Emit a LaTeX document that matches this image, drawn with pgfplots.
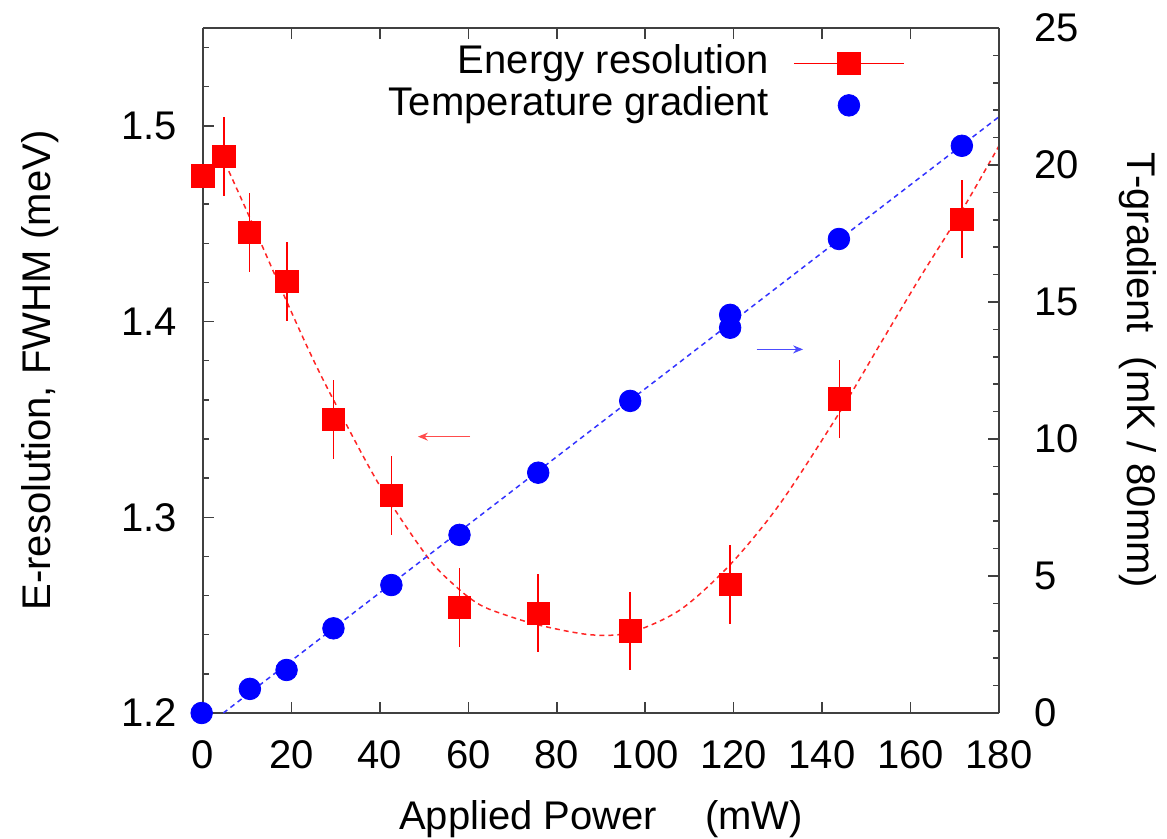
\documentclass[border=0pt]{standalone}
\usepackage{fontspec}
\setmainfont{Liberation Sans}
\usepackage{pgfplots}
\pgfplotsset{compat=1.18}
\usetikzlibrary{arrows.meta}

\definecolor{axgray}{RGB}{64,64,64}

\pgfplotsset{
  common/.style={
    scale only axis, width=398pt, height=342.5pt,
    xmin=0, xmax=180, clip=false,
    tick align=inside, major tick length=5.5pt, minor tick length=3pt,
    every tick/.style={axgray, line width=0.75pt},
    axis line style={axgray, line width=0.75pt},
    tick label style={font=\fontsize{20}{24}\selectfont},
    /pgf/number format/assume math mode=true,
  },
  fitline/.style={no marks, line width=0.75pt, dash pattern=on 2.5pt off 2pt},
}

\begin{document}
\begin{tikzpicture}
\begin{axis}[common, name=ax1,
  axis y line*=left, ymin=1.2, ymax=1.55,
  xtick={0,20,...,180}, ytick={1.2,1.3,1.4,1.5},
  minor ytick={1.2,1.22,...,1.55},
  yticklabel style={/pgf/number format/fixed, /pgf/number format/precision=1, xshift=-9.5pt},
  xticklabel style={yshift=-10.5pt},
  xlabel={Applied Power\hspace{1.2em}(mW)},
  ylabel={E-resolution, FWHM (meV)},
  every axis x label/.style={at={(axis description cs:0.5,-0.1708)}, anchor=base,
    font=\fontsize{20}{24}\selectfont},
  every axis y label/.style={at={(axis description cs:-0.205,0.5)}, anchor=center, rotate=90,
    font=\fontsize{20}{24}\selectfont},
]
% fit curve
\addplot[red!85, fitline, smooth] coordinates {
  (5,1.481) (10.4,1.454) (17.4,1.418) (24,1.385) (29.5,1.360) (40,1.316)
  (51,1.279) (58,1.263) (62.6,1.2553) (67.2,1.251) (75.8,1.245) (87.5,1.240)
  (96.6,1.2411) (107.9,1.2527) (119.2,1.2758) (130.5,1.307) (143.9,1.3534)
  (153,1.388) (162,1.422) (171.6,1.4567) (180,1.4898)
};
% measured resolution
\addplot[red, only marks, mark=square*, mark size=5.6pt,
  error bars/.cd, y dir=both, y explicit, error mark=none,
  error bar style={red, line width=0.75pt}] coordinates {
  (0,1.4745) +- (0,0)
  (4.7,1.4844) +- (0,0.02)
  (10.5,1.4455) +- (0,0.02)
  (19.0,1.4204) +- (0,0.02)
  (29.5,1.350) +- (0,0.02)
  (42.6,1.3112) +- (0,0.02)
  (58.0,1.2539) +- (0,0.02)
  (75.8,1.2510) +- (0,0.02)
  (96.6,1.242) +- (0,0.02)
  (119.2,1.2657) +- (0,0.02)
  (143.9,1.3605) +- (0,0.02)
  (171.6,1.4523) +- (0,0.02)
};
\draw[red!70, line width=0.6pt, -{Stealth[length=5pt,width=4pt]}]
  (axis cs:60.4,1.3412) -- (axis cs:48.6,1.3412);
\end{axis}

\begin{axis}[common,
  axis y line*=right, axis x line=none,
  ymin=0, ymax=25, ytick={0,5,...,25}, minor ytick={0,1,...,25},
  yticklabel style={xshift=14pt},
  ylabel={T-gradient\hspace{0.6em}(mK / 80mm)},
  every axis y label/.style={at={(axis description cs:1.1746,0.5)}, anchor=center, rotate=-90,
    font=\fontsize{20}{24}\selectfont},
  legend style={draw=none, fill=none, inner sep=0pt, at={(rel axis cs:0.882,0.9796)},
    anchor=north east, font=\fontsize{20}{24}\selectfont,
    nodes={inner sep=0.5pt, text height=15pt, text depth=5pt}, column sep=11.5pt},
  legend cell align=right, legend plot pos=right,
]
\addlegendimage{legend image code/.code={
  \draw[red, line width=0.75pt] (0pt,0pt) -- (55pt,0pt);
  \fill[red] (21.9pt,-5.6pt) rectangle (33.1pt,5.6pt);}}
\addlegendentry{Energy resolution}
\addplot[blue!80, fitline, forget plot] coordinates {(4.6,0) (180,21.76)};
\addplot[blue, only marks, mark=*, mark size=5.4pt,
  legend image code/.code={\fill[blue] (27.5pt,0pt) circle (5.4pt);}] coordinates {
  (-0.3,0) (10.6,0.88) (18.9,1.57) (29.5,3.09) (42.6,4.67) (58.0,6.50)
  (75.8,8.77) (96.6,11.39) (119.2,14.53) (119.2,14.06) (143.8,17.30) (171.6,20.70)
};
\addlegendentry{Temperature gradient}
\draw[blue!70, line width=0.6pt, -{Stealth[length=5pt,width=4pt]}]
  (axis cs:125.2,13.27) -- (axis cs:135.7,13.27);
\end{axis}

\pgfresetboundingbox
\path ([shift={(-101.5pt,-63pt)}]ax1.south west) rectangle ([shift={(84pt,14pt)}]ax1.north east);
\end{tikzpicture}
\end{document}
